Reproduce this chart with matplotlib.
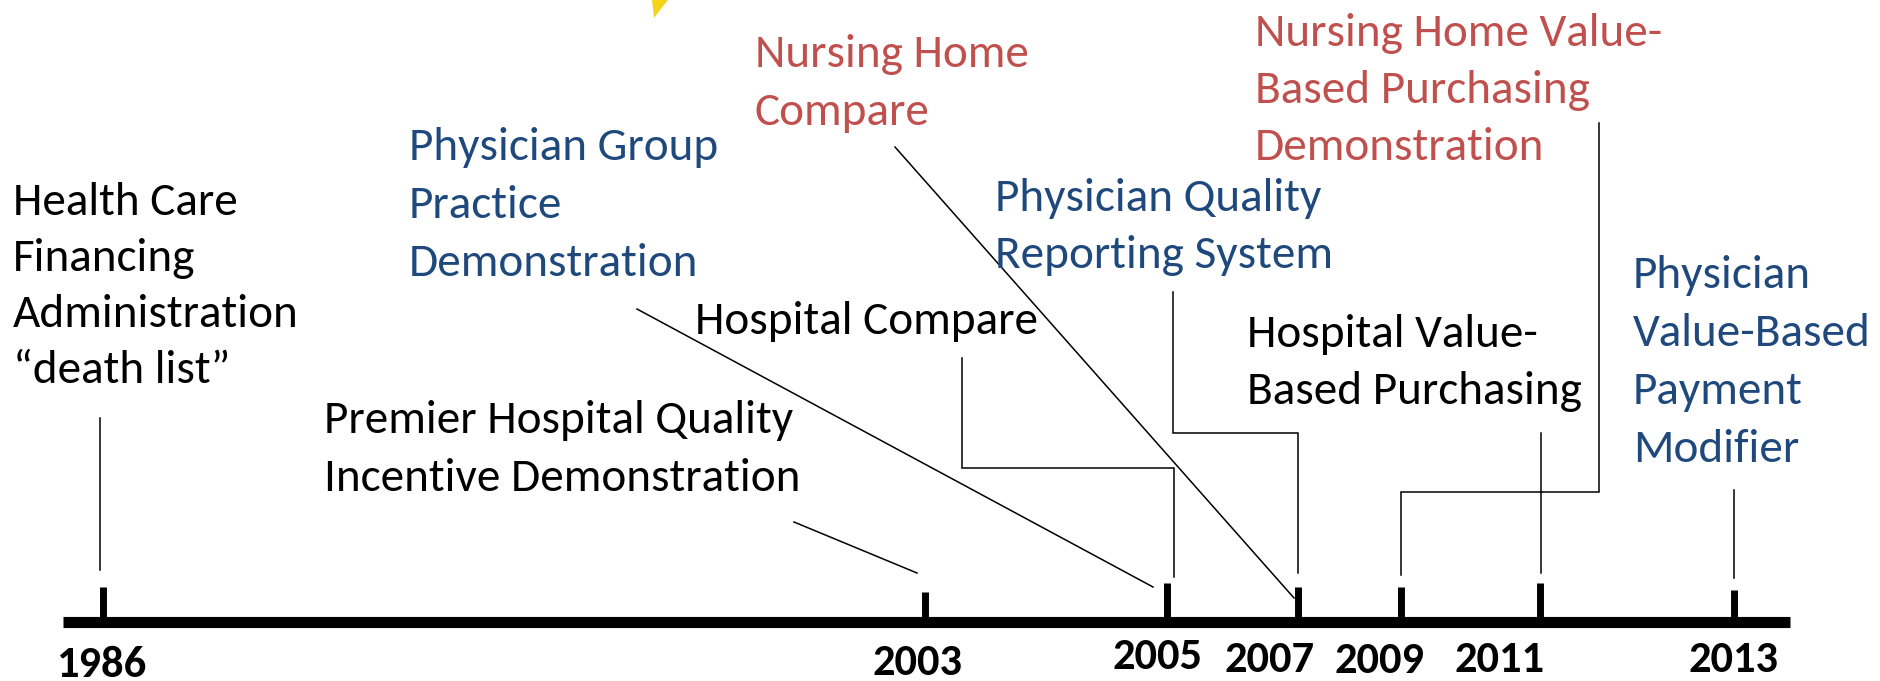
import matplotlib
matplotlib.use("Agg")
import matplotlib.pyplot as plt
from matplotlib import font_manager

# ---------------- data ----------------
years = [1986, 2003, 2005, 2007, 2009, 2011, 2013]
year_labels = ["1986", "2003", "2005", "2007", "2009", "2011", "2013"]

event_names = [
    ["Health Care", "Financing", "Administration", "\u201cdeath list\u201d"],
    ["Premier Hospital Quality", "Incentive Demonstration"],
    ["Physician Group", "Practice", "Demonstration"],
    ["Hospital Compare"],
    ["Nursing Home", "Compare"],
    ["Physician Quality", "Reporting System"],
    ["Nursing Home Value-", "Based Purchasing", "Demonstration"],
    ["Hospital Value-", "Based Purchasing"],
    ["Physician", "Value-Based", "Payment", "Modifier"],
]
event_years = [1986, 2003, 2005, 2005, 2007, 2007, 2009, 2011, 2013]
event_kind = ["black", "black", "blue", "black", "red", "blue", "red", "black", "blue"]

# ---------------- layout (pixel space of 1881x681 canvas, y downward) ----------------
W, H = 1881, 681
tick_x = [103, 925, 1167, 1298, 1401, 1540, 1734]
tick_top = [587, 592, 583, 587, 587, 583, 590]
label_x = [101, 918, 1157, 1269, 1380, 1499, 1733]
label_y = [665, 663, 657, 660, 661, 660, 660]
bar_y = 621.5
bar_x0, bar_x1 = 63, 1790

text_x = [13, 324, 409, 695, 755, 995, 1255, 1247, 1633]
text_base0 = [215, 433, 160, 334, 67, 211, 46, 347, 288]
text_pitch = [56, 58, 58, 58, 58, 57, 57, 57, 58]

connectors = [
    [(100, 418), (100, 570)],
    [(794, 522), (917, 573)],
    [(637, 309), (1153, 587)],
    [(962, 358), (962, 468), (1174, 468), (1174, 577)],
    [(895, 147), (1294, 598)],
    [(1173, 292), (1173, 433), (1298, 433), (1298, 573)],
    [(1599, 123), (1599, 492), (1401, 492), (1401, 575)],
    [(1541, 433), (1541, 573)],
    [(1734, 490), (1734, 578)],
]

colors = {"black": "#000000", "blue": "#1F497D", "red": "#C0504D"}

# ---------------- font ----------------
avail = {f.name for f in font_manager.fontManager.ttflist}
family = "DejaVu Sans"
for cand in ["Carlito", "Lato", "Open Sans", "Liberation Sans"]:
    if cand in avail:
        family = cand
        break
plt.rcParams["font.family"] = [family, "DejaVu Sans"]

fig = plt.figure(figsize=(W / 100, H / 100), dpi=100)
ax = fig.add_axes([0, 0, 1, 1])
ax.set_xlim(0, W)
ax.set_ylim(H, 0)
ax.axis("off")

# decorative yellow tip at top (fragment of a cut-off graphic)
ax.fill([652, 668, 660, 654], [0, 0, 10, 18], color="#F5D31A", lw=0)

# timeline bar
ax.plot([bar_x0, bar_x1], [bar_y, bar_y], color="black", lw=8.0, solid_capstyle="butt")
for x, t in zip(tick_x, tick_top):
    ax.plot([x, x], [t, bar_y], color="black", lw=5.0, solid_capstyle="butt")
for x, y, lab in zip(label_x, label_y, year_labels):
    ax.text(x, y, lab, ha="center", va="center", fontsize=32, fontweight="bold", color="black")

# connectors
for pts in connectors:
    xs = [p[0] for p in pts]
    ys = [p[1] for p in pts]
    ax.plot(xs, ys, color="black", lw=1.1, solid_joinstyle="miter")

# event labels
for lines, x, b0, p, kind in zip(event_names, text_x, text_base0, text_pitch, event_kind):
    for i, ln in enumerate(lines):
        ax.text(x, b0 + i * p, ln, ha="left", va="baseline", fontsize=34,
                color=colors[kind])

fig.savefig("out.png", dpi=100, facecolor="white")
